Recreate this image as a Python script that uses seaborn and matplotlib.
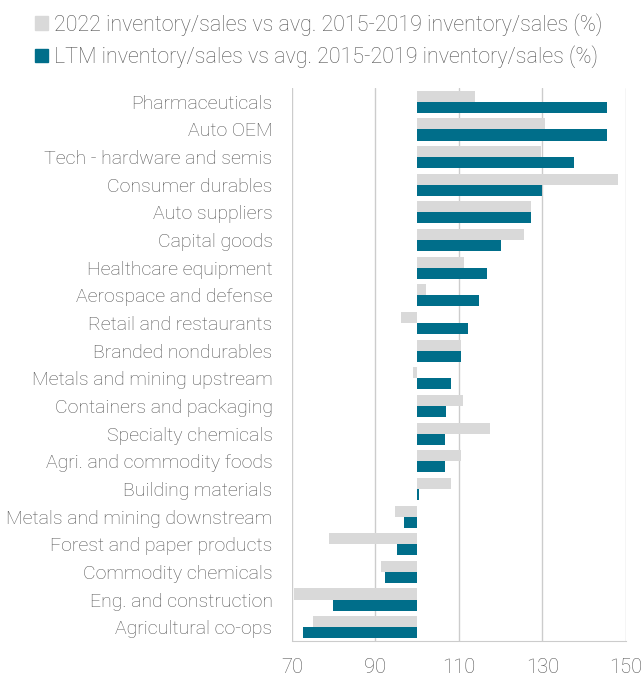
import matplotlib
matplotlib.use("Agg")
import matplotlib.pyplot as plt
import matplotlib.patches as mpatches
from matplotlib.ticker import FuncFormatter
import pandas as pd
import seaborn as sns

# sectors, top to bottom
sectors = [
    "Pharmaceuticals", "Auto OEM", "Tech - hardware and semis", "Consumer durables",
    "Auto suppliers", "Capital goods", "Healthcare equipment", "Aerospace and defense",
    "Retail and restaurants", "Branded nondurables", "Metals and mining upstream",
    "Containers and packaging", "Specialty chemicals", "Agri. and commodity foods",
    "Building materials", "Metals and mining downstream", "Forest and paper products",
    "Commodity chemicals", "Eng. and construction", "Agricultural co-ops",
]
vals_2022 = [113.9, 130.7, 129.6, 148.2, 127.3, 125.5, 111.3, 102.1, 96.0, 110.4,
             99.0, 111.0, 117.4, 110.4, 108.1, 94.7, 78.9, 91.4, 70.6, 75.1]
vals_ltm = [145.5, 145.4, 137.6, 130.0, 127.2, 120.1, 116.7, 114.7, 112.2, 110.4,
            108.0, 106.9, 106.6, 106.6, 100.4, 96.8, 95.2, 92.3, 79.8, 72.7]
series = ["2022 inventory/sales vs avg. 2015-2019 inventory/sales (%)",
          "LTM inventory/sales vs avg. 2015-2019 inventory/sales (%)"]
base = 100

df = pd.DataFrame({
    "sector": sectors * 2,
    "series": [series[0]] * len(sectors) + [series[1]] * len(sectors),
    "value": vals_2022 + vals_ltm,
})
df["diff"] = df["value"] - base

sns.set_style("white")
plt.rcParams["font.family"] = ["Roboto", "DejaVu Sans"]
plt.rcParams["font.weight"] = "light"
txt = "#555555"
colors = ["#d9d9d9", "#006e8a"]

fig = plt.figure(figsize=(6.41, 6.81), dpi=100)
ax = fig.add_axes([0.4555, 0.0587, 0.5211, 0.8121])

sns.barplot(data=df, y="sector", x="diff", hue="series", order=sectors,
            hue_order=series, palette=colors, width=0.8, ax=ax, legend=False,
            saturation=1, edgecolor="none")

ax.set_xlim(-30, 50)
ax.set_ylim(19.5, -0.5)
ax.set_xticks([-30, -10, 10, 30, 50])
ax.xaxis.set_major_formatter(FuncFormatter(lambda v, p: f"{v + base:.0f}"))
ax.grid(axis="x", color="#cccccc", linewidth=1)
ax.set_axisbelow(True)
for s in ["top", "right", "left"]:
    ax.spines[s].set_visible(False)
ax.spines["bottom"].set_color("#cccccc")
ax.tick_params(axis="x", length=6, color="#cccccc", labelsize=14.5, labelcolor=txt, pad=6)
ax.tick_params(axis="y", length=0, labelsize=14, labelcolor=txt, pad=14)
ax.set_xlabel("")
ax.set_ylabel("")

handles = [mpatches.Patch(color=c, label=l) for c, l in zip(colors, series)]
fig.legend(handles=handles, loc="upper left", bbox_to_anchor=(0.035, 1.0),
           frameon=False, fontsize=15.5, labelcolor=txt, handlelength=0.6,
           handleheight=0.6, handletextpad=0.25, labelspacing=0.45,
           borderaxespad=0.2)

fig.savefig("out.png", dpi=100)
